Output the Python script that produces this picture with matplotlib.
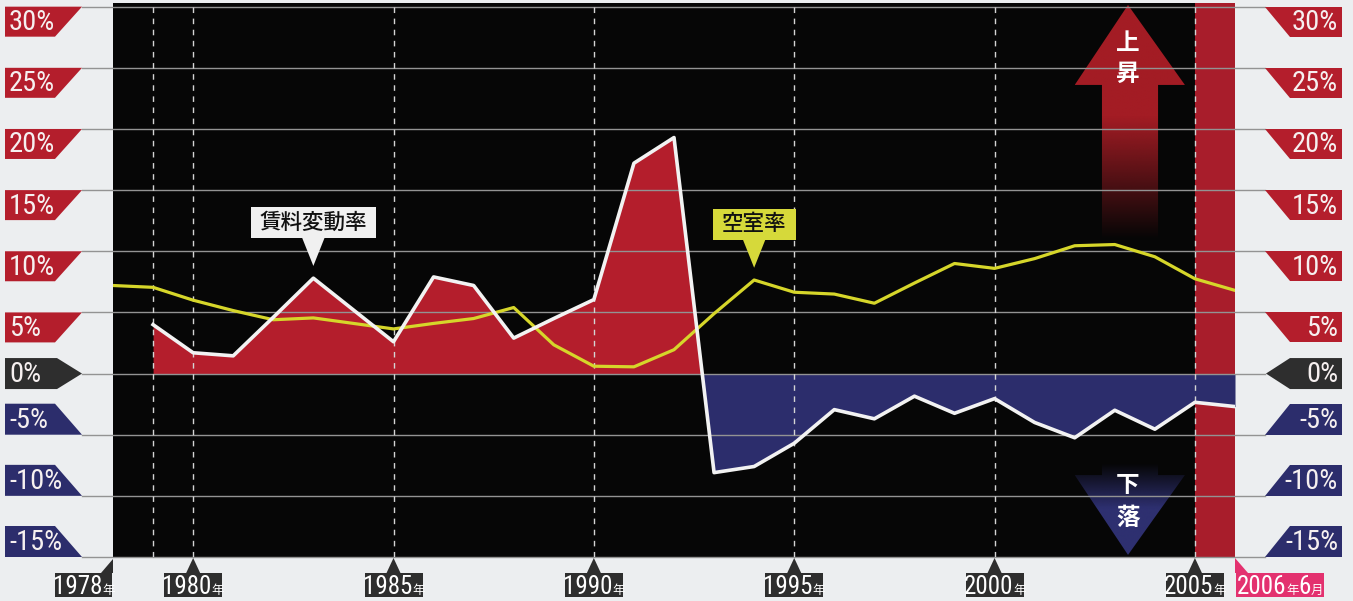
import numpy as np
import matplotlib
matplotlib.use("Agg")
import matplotlib.pyplot as plt
from matplotlib import font_manager
from matplotlib.patches import Polygon, Rectangle
from matplotlib.colors import to_rgb

# 空室率 (vacancy rate, %) 1978-2006
vac_years = np.arange(1978, 2007)
vacancy = [7.2, 7.05, 6.0, 5.15, 4.4, 4.55, 4.1, 3.65, 4.1, 4.5, 5.4, 2.35, 0.6,
           0.55, 1.95, 4.9, 7.65, 6.65, 6.5, 5.75, 7.4, 9.0, 8.6, 9.4, 10.45,
           10.55, 9.55, 7.75, 6.8]

# 賃料変動率 (rent change, %) 1979-2006
rent_years = np.arange(1979, 2007)
rent = np.array([4.0, 1.7, 1.45, 4.6, 7.8, 5.2, 2.6, 7.9, 7.2, 2.9, 4.5, 6.05,
                 17.2, 19.3, -8.1, -7.6, -5.7, -2.95, -3.7, -1.85, -3.25, -2.05,
                 -4.0, -5.25, -3.0, -4.55, -2.35, -2.7])

y_ticks = [30, 25, 20, 15, 10, 5, 0, -5, -10, -15]
y_labels = ["30%", "25%", "20%", "15%", "10%", "5%", "0%", "-5%", "-10%", "-15%"]
year_marks = [1978, 1980, 1985, 1990, 1995, 2000, 2005]
dashed_years = [1979, 1980, 1985, 1990, 1995, 2000, 2005]

RED = "#b41e2c"
NAVY = "#2c2d6c"
DARK = "#2e2e2e"
PINK = "#e3316f"
YELLOW = "#d6d62a"
JP_FONT = ["Noto Sans CJK JP", "DejaVu Sans"]

# pick a narrow face for the numbers if one is installed
num_font = dict(family="Liberation Sans")
TICK_SIZE, YEAR_SIZE = 15, 13
fonts = font_manager.fontManager.ttflist
names = {f.name for f in fonts}
for cand in ["Liberation Sans Narrow", "Roboto Condensed", "Open Sans Condensed"]:
    if cand in names:
        num_font = dict(family=cand)
        TICK_SIZE, YEAR_SIZE = 20.5, 18
        break
else:
    if any(f.name == "DejaVu Sans" and f.stretch == "condensed" for f in fonts):
        num_font = dict(family="DejaVu Sans", fontstretch="condensed")
        TICK_SIZE, YEAR_SIZE = 18, 15.5

W, H = 1353, 601
fig = plt.figure(figsize=(W / 100, H / 100), dpi=100)
fig.patch.set_facecolor("#eceef0")

L, R, T, B = 113, 1235, 3, 557
ax = fig.add_axes([L / W, 1 - B / H, (R - L) / W, (B - T) / H])
ax.set_facecolor("#060606")
for s in ax.spines.values():
    s.set_visible(False)
ax.set_xticks([])
ax.set_yticks([])

# overlay in pixel units for the labels around the plot
ov = fig.add_axes([0, 0, 1, 1], zorder=5)
ov.set_xlim(0, W)
ov.set_ylim(H, 0)
ov.axis("off")


def set_limits():
    ax.set_xlim(1978, 2006)
    ax.set_ylim(-15, 30.3)


def to_px(x, y):
    d = ax.transData.transform((x, y))
    return ov.transData.inverted().transform(d)


def gradient_arrow(pts, color, y0, y1, a_lo, a_hi):
    # arrow polygon filled with a vertical alpha ramp
    poly = Polygon(pts, closed=True, facecolor="none", lw=0, zorder=0.6)
    ax.add_patch(poly)
    xs = [p[0] for p in pts]
    yy = np.linspace(y0, y1, 200)
    alpha = np.clip((yy - a_lo) / (a_hi - a_lo), 0, 1)
    img = np.zeros((200, 1, 4))
    img[:, 0, :3] = to_rgb(color)
    img[:, 0, 3] = alpha
    im = ax.imshow(img, extent=[min(xs), max(xs), y0, y1], origin="lower",
                   aspect="auto", interpolation="bilinear", zorder=0.6)
    im.set_clip_path(poly)


set_limits()

# last-period band
ax.axvspan(2005, 2006, color="#a81d2b", lw=0, zorder=0.5)

# up / down arrows
up_pts = [(2003.33, 30.14), (2004.75, 23.6), (2004.08, 23.6), (2004.08, 10.3),
          (2002.68, 10.3), (2002.68, 23.6), (2002.0, 23.6)]
gradient_arrow(up_pts, "#a31c24", 10.3, 30.14, 11.0, 21.0)
dn_pts = [(2003.33, -14.83), (2002.0, -8.3), (2002.68, -8.3), (2002.68, -5.5),
          (2004.08, -5.5), (2004.08, -8.3), (2004.75, -8.3)]
gradient_arrow(dn_pts, "#2e3070", -14.83, -5.5, -7.4, -11.0)
set_limits()

for yv, ch in [(27.0, "上"), (24.5, "昇"), (-9.1, "下"), (-11.8, "落")]:
    ax.text(2003.33, yv, ch, ha="center", va="center", color="white",
            fontsize=17, fontweight="bold", family=JP_FONT, zorder=4)

# rent change areas
ax.fill_between(rent_years, rent, 0, where=rent >= 0, interpolate=True,
                color=RED, lw=0, zorder=1)
ax.fill_between(rent_years, rent, 0, where=rent <= 0, interpolate=True,
                color=NAVY, lw=0, zorder=1)

# grid
for v in y_ticks:
    ax.plot([-31 / (R - L), 1 + 30 / (R - L)], [v, v], color="#939393", lw=1,
            transform=ax.get_yaxis_transform(), clip_on=False, zorder=1.5)
for yr in dashed_years:
    ax.axvline(yr, color="#d4d4d4", lw=1, ls=(0, (4, 4)), zorder=1.5)

ax.plot(vac_years, vacancy, color=YELLOW, lw=2.3, zorder=3)
ax.plot(rent_years, rent, color="#f2f2f2", lw=2.6, zorder=3.5)


def callout(x, ytip, text, face, width):
    tri_h, half, box_h = 2.3, 0.28, 2.5
    ax.add_patch(Polygon([(x, ytip), (x - half, ytip + tri_h), (x + half, ytip + tri_h)],
                         closed=True, facecolor=face, lw=0, zorder=5))
    ax.add_patch(Rectangle((x - width / 2, ytip + tri_h), width, box_h,
                           facecolor=face, lw=0, zorder=5))
    ax.text(x, ytip + tri_h + box_h / 2, text, ha="center", va="center",
            color="#111111", fontsize=15.5, fontweight="medium", family=JP_FONT,
            zorder=6)


callout(1983, rent[list(rent_years).index(1983)] + 1.0, "賃料変動率", "#f0f0f0", 3.12)
callout(1994, vacancy[list(vac_years).index(1994)] + 1.0, "空室率", "#d6d93a", 2.07)

# percentage tags on both sides
for v, lab in zip(y_ticks, y_labels):
    _, yp = to_px(1978, v)
    if v > 0:
        c = RED
        left = [(5, yp), (82, yp), (55, yp + 30), (5, yp + 30)]
        right = [(1265, yp), (1342, yp), (1342, yp + 30), (1290, yp + 30)]
        ty = yp + 16
    elif v == 0:
        c = DARK
        left = [(5, yp - 15.5), (57, yp - 15.5), (82, yp), (57, yp + 15.5), (5, yp + 15.5)]
        right = [(1266, yp), (1290, yp - 15.5), (1342, yp - 15.5), (1342, yp + 15.5),
                 (1290, yp + 15.5)]
        ty = yp + 1
    else:
        c = NAVY
        left = [(5, yp - 31), (55, yp - 31), (82, yp), (5, yp)]
        right = [(1290, yp - 31), (1342, yp - 31), (1342, yp), (1265, yp)]
        ty = yp - 14
    ov.add_patch(Polygon(left, closed=True, facecolor=c, lw=0))
    ov.add_patch(Polygon(right, closed=True, facecolor=c, lw=0))
    ov.text(9, ty, lab, ha="left", va="center", color="#f6f0f0",
            fontsize=TICK_SIZE, **num_font)
    ov.text(1338, ty, lab, ha="right", va="center", color="#f6f0f0",
            fontsize=TICK_SIZE, **num_font)

renderer = fig.canvas.get_renderer()


def pieces(xc, y, parts):
    # lay out mixed-size text runs centred on xc
    objs, total = [], 0
    for s, small in parts:
        if small:
            t = ov.text(0, y, s, fontsize=9, family=JP_FONT, color="white",
                        ha="left", va="baseline")
        else:
            t = ov.text(0, y, s, fontsize=YEAR_SIZE, color="white",
                        ha="left", va="baseline", **num_font)
        w = t.get_window_extent(renderer).width
        objs.append((t, w))
        total += w
    x = xc - total / 2
    for t, w in objs:
        t.set_x(x)
        x += w


# year tags below the plot
for yr in year_marks:
    xp, yb = to_px(yr, -15)
    if yr == 1978:
        ov.add_patch(Polygon([(xp, yb + 2), (xp, yb + 16), (xp - 12, yb + 16)],
                             closed=True, facecolor=DARK, lw=0))
        x0, x1 = xp - 58, xp - 1
    else:
        ov.add_patch(Polygon([(xp, yb + 1), (xp - 7, yb + 16), (xp + 7, yb + 16)],
                             closed=True, facecolor=DARK, lw=0))
        x0, x1 = xp - 29, xp + 29
    ov.add_patch(Rectangle((x0, yb + 16), x1 - x0, 24, facecolor=DARK, lw=0))
    pieces((x0 + x1) / 2, yb + 37, [(str(yr), False), ("年", True)])

xp, yb = to_px(2006, -15)
ov.add_patch(Polygon([(xp, yb + 1), (xp, yb + 16), (xp + 13, yb + 16)],
                     closed=True, facecolor=PINK, lw=0))
ov.add_patch(Rectangle((xp + 1, yb + 16), 88, 24, facecolor=PINK, lw=0))
pieces(xp + 45, yb + 37, [("2006", False), ("年", True), ("6", False), ("月", True)])

fig.savefig("out.png", dpi=100, facecolor=fig.get_facecolor())
